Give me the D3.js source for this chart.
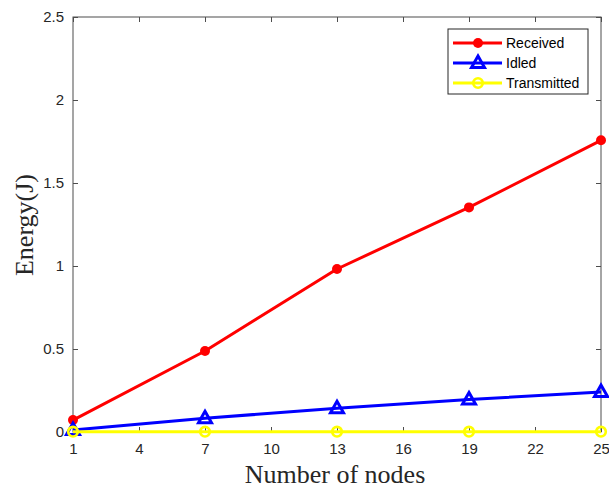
<!DOCTYPE html>
<html>
<head>
<meta charset="utf-8">
<script src="https://cdn.jsdelivr.net/npm/d3@7/dist/d3.min.js"></script>
<style>
body { margin: 0; background: #fff; }
svg { display: block; }
.tick text { font-family: "Liberation Sans", Arial, sans-serif; font-size: 15px; fill: #262626; }
</style>
</head>
<body>
<svg width="609" height="488"></svg>
<script>
var nodes = [1, 7, 13, 19, 25];
var received = [0.072, 0.488, 0.982, 1.353, 1.757];
var idled = [0.012, 0.083, 0.143, 0.196, 0.241];
var transmitted = [0.002, 0.002, 0.002, 0.002, 0.002];
var xTicks = [1, 4, 7, 10, 13, 16, 19, 22, 25];
var yTicks = [0, 0.5, 1, 1.5, 2, 2.5];
var seriesNames = ["Received", "Idled", "Transmitted"];

var svg = d3.select("svg"),
    margin = {top: 17, right: 8, bottom: 56, left: 73},
    width = 609 - margin.left - margin.right,
    height = 488 - margin.top - margin.bottom;
var g = svg.append("g").attr("transform", "translate(" + margin.left + "," + margin.top + ")");

var x = d3.scaleLinear().domain([1, 25]).range([0, width]);
var y = d3.scaleLinear().domain([0, 2.5]).range([height, 0]);

var axisColor = "#4d4d4d";

// box
g.append("rect")
    .attr("width", width)
    .attr("height", height)
    .attr("fill", "none")
    .attr("stroke", axisColor)
    .attr("stroke-width", 1);

function styleAxis(sel, showText) {
    sel.select(".domain").remove();
    sel.selectAll(".tick line").attr("stroke", axisColor);
    if (!showText) sel.selectAll(".tick text").remove();
}

g.append("g")
    .attr("transform", "translate(0," + height + ")")
    .call(d3.axisBottom(x).tickValues(xTicks).tickSize(-5).tickPadding(11).tickFormat(d3.format("d")))
    .call(styleAxis, true);
g.append("g")
    .call(d3.axisTop(x).tickValues(xTicks).tickSize(-5))
    .call(styleAxis, false);
g.append("g")
    .call(d3.axisLeft(y).tickValues(yTicks).tickSize(-5).tickPadding(9).tickFormat(function(d) { return d; }))
    .call(styleAxis, true);
g.append("g")
    .attr("transform", "translate(" + width + ",0)")
    .call(d3.axisRight(y).tickValues(yTicks).tickSize(-5))
    .call(styleAxis, false);

// axis labels
svg.append("text")
    .attr("x", 335)
    .attr("y", 483)
    .attr("text-anchor", "middle")
    .style("font-family", "'Liberation Serif', 'Times New Roman', serif")
    .style("font-size", "26px")
    .attr("fill", "#262626")
    .text("Number of nodes");
svg.append("text")
    .attr("transform", "translate(33,225) rotate(-90)")
    .attr("text-anchor", "middle")
    .style("font-family", "'Liberation Serif', 'Times New Roman', serif")
    .style("font-size", "26px")
    .attr("fill", "#262626")
    .text("Energy(J)");

var series = [
    {name: seriesNames[0], values: received, color: "#ff0000", marker: "dot"},
    {name: seriesNames[1], values: idled, color: "#0000ff", marker: "tri"},
    {name: seriesNames[2], values: transmitted, color: "#ffff00", marker: "ring"}
];

var line = d3.line()
    .x(function(d, i) { return x(nodes[i]); })
    .y(function(d) { return y(d); });

function drawMarker(sel, s) {
    if (s.marker === "dot") {
        sel.append("circle").attr("r", 5).attr("fill", s.color);
    } else if (s.marker === "tri") {
        sel.append("path")
            .attr("d", "M0,-7L6.5,4.5L-6.5,4.5Z")
            .attr("fill", "none")
            .attr("stroke", s.color)
            .attr("stroke-width", 3)
            .attr("stroke-linejoin", "miter");
    } else {
        sel.append("circle").attr("r", 4.8).attr("fill", "none")
            .attr("stroke", s.color).attr("stroke-width", 2.6);
    }
}

series.forEach(function(s) {
    g.append("path")
        .datum(s.values)
        .attr("fill", "none")
        .attr("stroke", s.color)
        .attr("stroke-width", 3)
        .attr("stroke-linejoin", "round")
        .attr("d", line);
    s.values.forEach(function(v, i) {
        var m = g.append("g").attr("transform", "translate(" + x(nodes[i]) + "," + y(v) + ")");
        drawMarker(m, s);
    });
});

// legend
var legend = svg.append("g").attr("transform", "translate(448,29)");
legend.append("rect")
    .attr("width", 140)
    .attr("height", 65)
    .attr("fill", "#fff")
    .attr("stroke", "#262626")
    .attr("stroke-width", 1);
series.forEach(function(s, i) {
    var row = legend.append("g").attr("transform", "translate(0," + (14 + i * 20) + ")");
    row.append("line")
        .attr("x1", 5).attr("x2", 54)
        .attr("stroke", s.color).attr("stroke-width", 3);
    var m = row.append("g").attr("transform", "translate(30,0)");
    drawMarker(m, s);
    row.append("text")
        .attr("x", 58)
        .attr("dy", "0.35em")
        .style("font-family", "'Liberation Sans', Arial, sans-serif")
        .style("font-size", "14px")
        .attr("fill", "#000")
        .text(s.name);
});
</script>
</body>
</html>
